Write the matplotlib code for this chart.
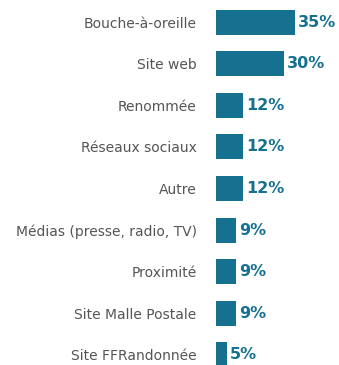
import matplotlib.pyplot as plt

# Data
categories = ['Bouche-à-oreille', 'Site web', 'Renommée', 'Réseaux sociaux', 'Autre',
              'Médias (presse, radio, TV)', 'Proximité', 'Site Malle Postale', 'Site FFRandonnée']
values = [35, 30, 12, 12, 12, 9, 9, 9, 5]

bar_color = '#15718f'
label_color = '#555555'

plt.rcParams['font.family'] = ['DejaVu Sans']

fig = plt.figure(figsize=(3.39, 3.65), dpi=100)
ax = fig.add_axes([216 / 339, 0, 123 / 339, 1])

y = list(range(len(categories)))
ax.barh(y, values, height=0.6, color=bar_color)

for yi, v in zip(y, values):
    ax.text(v + 1.2, yi, f'{v}%', va='center', ha='left', fontsize=11.5,
            fontweight='bold', color=bar_color)

ax.set_yticks(y)
ax.set_yticklabels(categories, fontsize=10, color=label_color)
ax.tick_params(axis='y', length=0, pad=14)
ax.set_xticks([])
ax.set_xlim(0, 123 / 2.26)
ax.set_ylim(8.245, -0.53)
for s in ax.spines.values():
    s.set_visible(False)

plt.savefig('out.png', dpi=100)
